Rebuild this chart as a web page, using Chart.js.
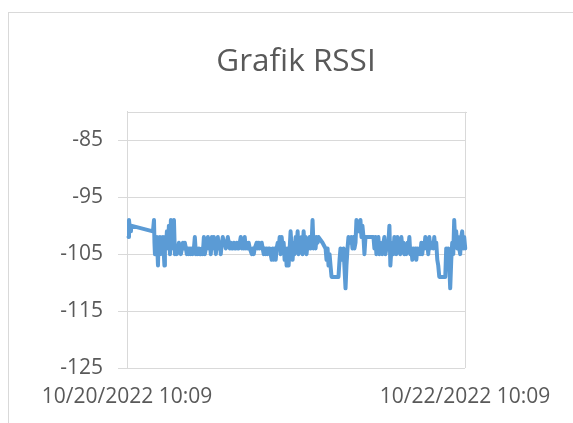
<!DOCTYPE html>
<html>
<head>
<meta charset="utf-8">
<script src="https://cdn.jsdelivr.net/npm/chart.js@4"></script>
<style>
  html, body { margin: 0; padding: 0; background: #ffffff; }
</style>
</head>
<body>
<canvas id="chart" width="573" height="423"></canvas>
<script>
// minutes after 10/20/2022 10:09 and the RSSI (dBm) read at that time
const minutes = [
  13, 17, 26, 34, 221, 230, 234, 238, 242, 251, 255, 264, 268, 276, 281, 289, 293, 302, 306, 319,
  323, 332, 340, 349, 357, 366, 374, 383, 391, 400, 408, 417, 425, 434, 442, 451, 459,
  468, 476, 485, 493, 502, 510, 519, 527, 536, 544, 553, 561, 570, 578, 587, 595, 604, 612, 621,
  629, 638, 646, 655, 663, 672, 680, 689, 697, 706, 714, 723, 731, 740, 748, 757, 765, 774, 782,
  791, 799, 808, 816, 825, 833, 842, 850, 859, 867, 876, 884, 893, 901, 910, 918, 927, 935, 944,
  952, 961, 969, 978, 986, 995,
  1003, 1012, 1020, 1029, 1037, 1046, 1063, 1071, 1080, 1088, 1105, 1114, 1122, 1131, 1148, 1156,
  1165, 1173, 1182, 1190, 1199, 1207, 1216, 1224, 1233, 1241, 1250, 1258, 1267, 1275, 1284, 1292,
  1301, 1309, 1318, 1326, 1335, 1343, 1352, 1360, 1369, 1377, 1386, 1394, 1403, 1411, 1420, 1428,
  1437, 1445, 1454, 1462, 1471, 1479,
  1488, 1496, 1505, 1513, 1522, 1530, 1539, 1547, 1556, 1564, 1573, 1581, 1590, 1598, 1607, 1615,
  1624, 1632, 1666, 1692, 1700, 1709, 1717, 1726, 1734, 1743, 1802, 1811, 1819, 1828, 1845, 1862,
  1870, 1879, 1887,
  1896, 1913, 1921, 1930, 1938, 1947, 1955, 1964, 1972, 1981, 1989, 1998, 2006, 2015, 2023, 2032,
  2100, 2108, 2117, 2125, 2134, 2142, 2151, 2159, 2168, 2176, 2185, 2193, 2202, 2210, 2219, 2227,
  2236, 2244, 2253, 2261, 2270, 2278, 2287, 2295, 2304, 2312, 2321, 2329, 2338, 2346, 2355, 2363,
  2372, 2380, 2389, 2397, 2406, 2414,
  2423, 2431, 2440, 2448, 2457, 2465, 2474, 2482, 2491, 2499, 2508, 2516, 2525, 2533, 2542, 2550,
  2559, 2567, 2576, 2584, 2593, 2610, 2618, 2627, 2635, 2644, 2652, 2661, 2712, 2720, 2729, 2737,
  2746, 2754, 2763, 2771, 2780, 2788, 2797, 2805, 2814, 2822, 2831, 2839, 2848, 2856, 2865, 2873,
  2882, 2890, 2899, 2907, 2916, 2924
];
const rssi = [
  -102, -99, -101, -100, -101, -99, -103, -105, -102, -104, -102, -107, -103, -105, -102, -104, -103, -105, -102, -107,
  -102, -104, -101, -104, -100, -105, -99, -104, -100, -99, -105, -104, -105, -104, -103, -104, -105,
  -104, -103, -104, -103, -104, -105, -104, -105, -104, -105, -104, -105, -104, -102, -105, -104, -105, -104, -105,
  -105, -104, -105, -102, -105, -104, -103, -102, -104, -103, -105, -102, -104, -102, -103, -105, -103, -102, -104,
  -103, -105, -103, -102, -103, -103, -104, -103, -102, -103, -104, -103, -104, -104, -103, -104, -104, -103, -104,
  -104, -103, -102, -104, -103, -104,
  -102, -104, -103, -104, -103, -104, -105, -104, -105, -104, -103, -104, -103, -104, -103, -104,
  -105, -104, -105, -104, -105, -104, -104, -105, -106, -104, -106, -104, -106, -104, -103, -104,
  -102, -105, -102, -104, -103, -106, -104, -107, -104, -107, -104, -101, -104, -106, -103, -105,
  -102, -104, -101, -105, -103, -104,
  -102, -105, -101, -104, -102, -105, -103, -104, -102, -104, -103, -99, -104, -102, -104, -102,
  -103, -102, -103, -104, -106, -104, -107, -105, -107, -109, -109, -106, -104, -106, -104, -111,
  -107, -104, -102,
  -103, -102, -104, -102, -104, -103, -99, -101, -100, -101, -99, -102, -100, -102, -105, -102,
  -102, -104, -102, -105, -103, -102, -105, -103, -104, -105, -103, -102, -105, -104, -104, -103,
  -100, -107, -104, -103, -105, -102, -104, -105, -102, -104, -103, -105, -102, -104, -103, -105,
  -104, -105, -103, -104, -102, -105,
  -104, -106, -104, -105, -104, -106, -104, -105, -104, -105, -103, -105, -103, -104, -102, -104,
  -103, -105, -102, -104, -103, -104, -102, -104, -103, -106, -107, -109, -109, -104, -106, -104,
  -107, -111, -106, -103, -105, -99, -103, -101, -104, -102, -104, -105, -102, -101, -104, -102,
  -104, -106, -103, -104, -102, -103
];
const xTickValues = [0, 2880];
const xTickLabels = ["10/20/2022 10:09", "10/22/2022 10:09"];
const yTickValues = [-125, -115, -105, -95, -85];

const GRID = "#d9d9d9";
const TEXT = "#595959";
const FONT = "'Open Sans', 'Noto Sans', sans-serif";

// Excel-like chart frame plus the closed top edge of the plot area
const framePlugin = {
  id: "frame",
  beforeDraw(chart) {
    const ctx = chart.ctx;
    ctx.save();
    ctx.strokeStyle = GRID;
    ctx.lineWidth = 1;
    ctx.strokeRect(8.5, 12.5, 800, 800);
    ctx.restore();
  },
  beforeDatasetsDraw(chart) {
    const { ctx, chartArea } = chart;
    ctx.save();
    ctx.strokeStyle = GRID;
    ctx.lineWidth = 1;
    ctx.beginPath();
    ctx.moveTo(chartArea.left, Math.round(chartArea.top) + 0.5);
    ctx.lineTo(chartArea.right + 2, Math.round(chartArea.top) + 0.5);
    ctx.stroke();
    ctx.restore();
  },
};

const points = minutes.map((m, i) => ({ x: m, y: rssi[i] }));

new Chart(document.getElementById("chart"), {
  type: "line",
  data: {
    datasets: [{
      label: "RSSI",
      data: points,
      borderColor: "#5b9bd5",
      borderWidth: 4,
      borderJoinStyle: "round",
      borderCapStyle: "round",
      pointRadius: 0,
      tension: 0,
      clip: false,
    }],
  },
  options: {
    responsive: false,
    animation: false,
    layout: { padding: { left: 19, right: 0, top: 0, bottom: 0 } },
    plugins: {
      legend: { display: false },
      tooltip: { enabled: false },
      title: {
        display: true,
        text: "Grafik RSSI",
        color: TEXT,
        font: { family: FONT, size: 31.5, weight: "normal" },
        padding: { top: 43, bottom: 31 },
      },
    },
    scales: {
      x: {
        type: "linear",
        min: xTickValues[0],
        max: xTickValues[xTickValues.length - 1],
        afterBuildTicks: (scale) => {
          scale.ticks = xTickValues.map((v) => ({ value: v }));
        },
        afterFit: (scale) => { scale.height = 55; },
        grid: { color: GRID, drawTicks: false },
        border: { display: false },
        ticks: {
          color: TEXT,
          font: { family: FONT, size: 21 },
          padding: 16,
          maxRotation: 0,
          autoSkip: false,
          callback: (v) => xTickLabels[xTickValues.indexOf(v)],
        },
      },
      y: {
        min: -125,
        max: -80,
        afterBuildTicks: (scale) => {
          scale.ticks = yTickValues.map((v) => ({ value: v }));
        },
        afterFit: (scale) => { scale.width = 108; },
        grid: { color: GRID, tickLength: 9 },
        border: { color: GRID },
        ticks: {
          color: TEXT,
          font: { family: FONT, size: 21 },
          padding: 15,
        },
      },
      // empty right-hand axis: keeps the plot's right margin without shifting the title
      yRight: {
        position: "right",
        min: -125,
        max: -80,
        afterFit: (scale) => { scale.width = 108; },
        grid: { display: false },
        border: { display: false },
        ticks: { display: false },
      },
    },
  },
  plugins: [framePlugin],
});
</script>
</body>
</html>
